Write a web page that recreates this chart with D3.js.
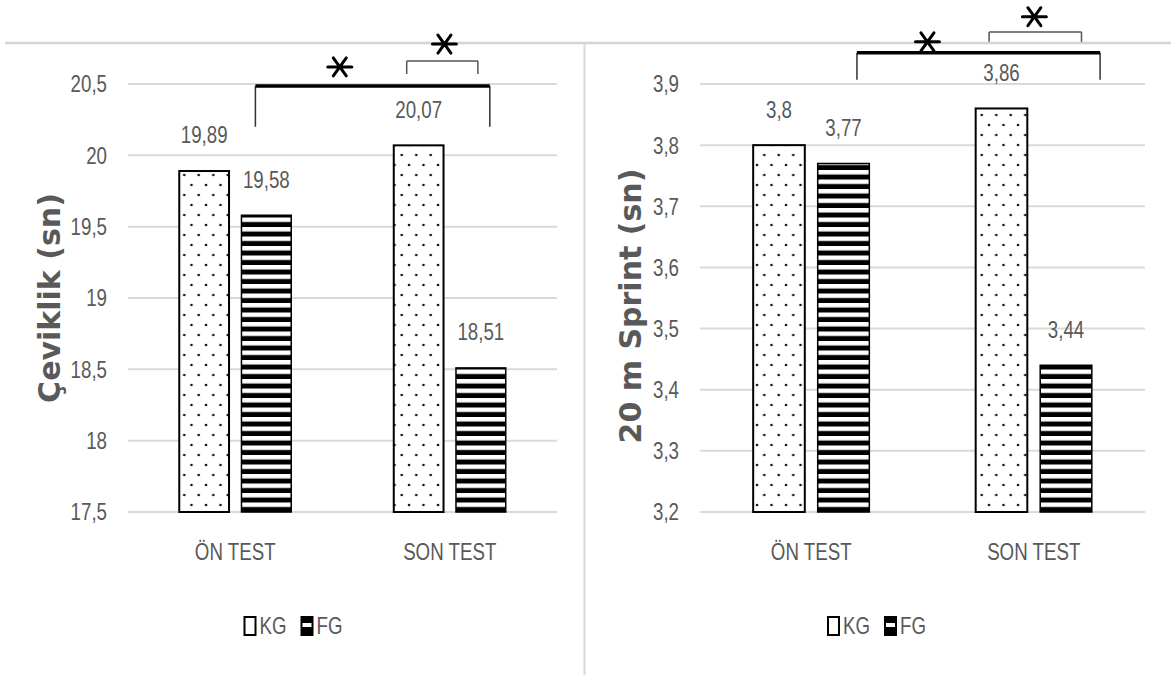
<!DOCTYPE html>
<html>
<head>
<meta charset="utf-8">
<script src="https://cdn.jsdelivr.net/npm/d3@7"></script>
<style>
  body { margin: 0; background: #fff; }
  .num { font-family: "Liberation Sans", Arial, sans-serif; font-size: 24px; fill: #595959; }
  .axis-title { font-family: "DejaVu Sans", sans-serif; font-weight: bold; font-size: 30px; fill: #595959; }
</style>
</head>
<body>
<script>
// data
const categories = ["ÖN TEST", "SON TEST"];
const groups = ["KG", "FG"];
const agilityKG = [19.89, 20.07];
const agilityFG = [19.58, 18.51];
const sprintKG = [3.80, 3.86];
const sprintFG = [3.77, 3.44];
const agilityTicks = [17.5, 18, 18.5, 19, 19.5, 20, 20.5];
const sprintTicks = [3.2, 3.3, 3.4, 3.5, 3.6, 3.7, 3.8, 3.9];
const agilityTitle = "Çeviklik (sn)";
const sprintTitle = "20 m Sprint (sn)";

// significance brackets: ends given as [category, group, fraction of bar width], heights in data units
const agilitySig = [
  { from: ["ÖN TEST", "FG", 0.28], to: ["SON TEST", "FG", 0.68], level: 20.486, foot: 20.2, star: 0.36, starLevel: 20.62, heavy: true },
  { from: ["SON TEST", "KG", 0.26], to: ["SON TEST", "FG", 0.44], level: 20.661, foot: 20.57, star: 0.53, starLevel: 20.78, heavy: false }
];
const sprintSig = [
  { from: ["ÖN TEST", "FG", 0.76], to: ["SON TEST", "FG", 1.16], level: 3.951, foot: 3.907, star: 0.29, starLevel: 3.969, heavy: true },
  { from: ["SON TEST", "KG", 0.26], to: ["SON TEST", "FG", 0.8], level: 3.985, foot: 3.969, star: 0.49, starLevel: 4.01, heavy: false }
];

const fmt = d3.formatLocale({ decimal: ",", thousands: ".", grouping: [3], currency: ["", ""] }).format(".2~f");

const width = 1171, height = 675;
const plotTop = 84, plotBottom = 512;
const squeeze = 0.78; // narrow look of the original font

const svg = d3.select("body").append("svg")
  .attr("width", width)
  .attr("height", height);

const defs = svg.append("defs");

// dotted fill for KG
const dots = defs.append("pattern")
  .attr("id", "dots")
  .attr("patternUnits", "userSpaceOnUse")
  .attr("width", 14.5).attr("height", 20);
dots.append("rect").attr("width", 14.5).attr("height", 20).attr("fill", "#fff");
dots.append("circle").attr("cx", 3).attr("cy", 5).attr("r", 1.3).attr("fill", "#111");
dots.append("circle").attr("cx", 10.25).attr("cy", 15).attr("r", 1.3).attr("fill", "#111");

// horizontal stripes for FG
const stripes = defs.append("pattern")
  .attr("id", "stripes")
  .attr("patternUnits", "userSpaceOnUse")
  .attr("width", 10).attr("height", 9.5)
  .attr("patternTransform", `translate(0,${plotBottom})`);
stripes.append("rect").attr("width", 10).attr("height", 9.5).attr("fill", "#fff");
stripes.append("rect").attr("y", 4.5).attr("width", 10).attr("height", 5).attr("fill", "#000");

const fills = { KG: "url(#dots)", FG: "url(#stripes)" };

// frame lines
svg.append("line")
  .attr("x1", 5).attr("x2", width).attr("y1", 43).attr("y2", 43)
  .attr("stroke", "#d4d4d4").attr("stroke-width", 2.5);
svg.append("line")
  .attr("x1", 584.5).attr("x2", 584.5).attr("y1", 43).attr("y2", height)
  .attr("stroke", "#d9d9d9").attr("stroke-width", 2);

const panels = [
  { left: 128, right: 557, panelLeft: 5, panelRight: 584, titleX: 60, titleY: 298, title: agilityTitle,
    ticks: agilityTicks, values: { KG: agilityKG, FG: agilityFG }, sig: agilitySig },
  { left: 700, right: 1145, panelLeft: 585, panelRight: 1171, titleX: 641, titleY: 306, title: sprintTitle,
    ticks: sprintTicks, values: { KG: sprintKG, FG: sprintFG }, sig: sprintSig }
];

panels.forEach(drawPanel);

function at(x, y) {
  return `translate(${x},${y}) scale(${squeeze},1)`;
}

function drawPanel(p) {
  const g = svg.append("g");

  const x0 = d3.scaleBand()
    .domain(categories)
    .range([p.left, p.right])
    .paddingInner(0.478)
    .paddingOuter(0.239);

  const x1 = d3.scaleBand()
    .domain(groups)
    .range([0, x0.bandwidth()])
    .paddingInner(0.2);

  const y = d3.scaleLinear()
    .domain(d3.extent(p.ticks))
    .range([plotBottom, plotTop]);

  // gridlines
  g.selectAll(".grid").data(p.ticks).join("line")
    .attr("x1", p.left).attr("x2", p.right)
    .attr("y1", d => y(d)).attr("y2", d => y(d))
    .attr("stroke", "#d9d9d9").attr("stroke-width", 2);

  // tick labels
  g.selectAll(".tick").data(p.ticks).join("text")
    .attr("class", "num")
    .attr("transform", d => at(p.left - 21, y(d)))
    .attr("dy", "0.35em")
    .attr("text-anchor", "end")
    .text(d => fmt(d));

  // bars
  const rows = [];
  groups.forEach(grp => {
    p.values[grp].forEach((v, i) => rows.push({ cat: categories[i], grp, v }));
  });

  g.selectAll(".bar").data(rows).join("rect")
    .attr("x", d => x0(d.cat) + x1(d.grp))
    .attr("y", d => y(d.v))
    .attr("width", x1.bandwidth())
    .attr("height", d => y.range()[0] - y(d.v))
    .attr("fill", d => fills[d.grp])
    .attr("stroke", "#000")
    .attr("stroke-width", d => d.grp === "KG" ? 2 : 1.5);

  // value labels
  g.selectAll(".val").data(rows).join("text")
    .attr("class", "num")
    .attr("transform", d => at(x0(d.cat) + x1(d.grp) + x1.bandwidth() / 2, y(d.v) - 36))
    .attr("dy", "0.35em")
    .attr("text-anchor", "middle")
    .text(d => fmt(d.v));

  // category labels
  g.selectAll(".cat").data(categories).join("text")
    .attr("class", "num")
    .attr("transform", d => at(x0(d) + x0.bandwidth() / 2, 552))
    .attr("dy", "0.35em")
    .attr("text-anchor", "middle")
    .text(d => d);

  // axis title
  g.append("text")
    .attr("class", "axis-title")
    .attr("transform", `translate(${p.titleX},${p.titleY}) rotate(-90)`)
    .attr("text-anchor", "middle")
    .text(p.title);

  // legend
  const legCx = (p.panelLeft + p.panelRight) / 2;
  const leg = g.append("g").attr("transform", `translate(${legCx - 50},626)`);
  const item = leg.selectAll("g").data(groups).join("g")
    .attr("transform", (d, i) => `translate(${i * 57},0)`);
  item.append("rect")
    .attr("x", 0).attr("y", -9).attr("width", 11).attr("height", 18)
    .attr("fill", d => d === "KG" ? "#fff" : "#000")
    .attr("stroke", "#000").attr("stroke-width", 2);
  item.filter(d => d === "FG").append("rect")
    .attr("x", 1).attr("y", -3).attr("width", 9).attr("height", 4)
    .attr("fill", "#fff");
  item.append("text")
    .attr("class", "num")
    .attr("transform", at(15, 0))
    .attr("dy", "0.35em")
    .text(d => d);

  // significance brackets
  const bx = e => x0(e[0]) + x1(e[1]) + e[2] * x1.bandwidth();
  p.sig.forEach(s => {
    const xa = bx(s.from), xb = bx(s.to);
    const yl = y(s.level), yf = y(s.foot);
    const tickColor = s.heavy ? "#333" : "#555";
    g.append("line").attr("x1", xa).attr("x2", xa).attr("y1", yl).attr("y2", yf)
      .attr("stroke", tickColor).attr("stroke-width", 1.5);
    g.append("line").attr("x1", xb).attr("x2", xb).attr("y1", yl).attr("y2", yf)
      .attr("stroke", tickColor).attr("stroke-width", 1.5);
    g.append("line").attr("x1", xa).attr("x2", xb).attr("y1", yl).attr("y2", yl)
      .attr("stroke", s.heavy ? "#000" : "#555").attr("stroke-width", s.heavy ? 3.5 : 1.5);
    drawStar(g, xa + s.star * (xb - xa), y(s.starLevel));
  });
}

function drawStar(g, cx, cy) {
  const path = d3.path();
  const arms = [[12, 0], [6.5, 9], [-6.5, 9]];
  arms.forEach(([dx, dy]) => {
    path.moveTo(cx - dx, cy - dy);
    path.lineTo(cx + dx, cy + dy);
  });
  g.append("path")
    .attr("d", path.toString())
    .attr("stroke", "#000")
    .attr("stroke-width", 3)
    .attr("stroke-linecap", "round")
    .attr("fill", "none");
}
</script>
</body>
</html>
